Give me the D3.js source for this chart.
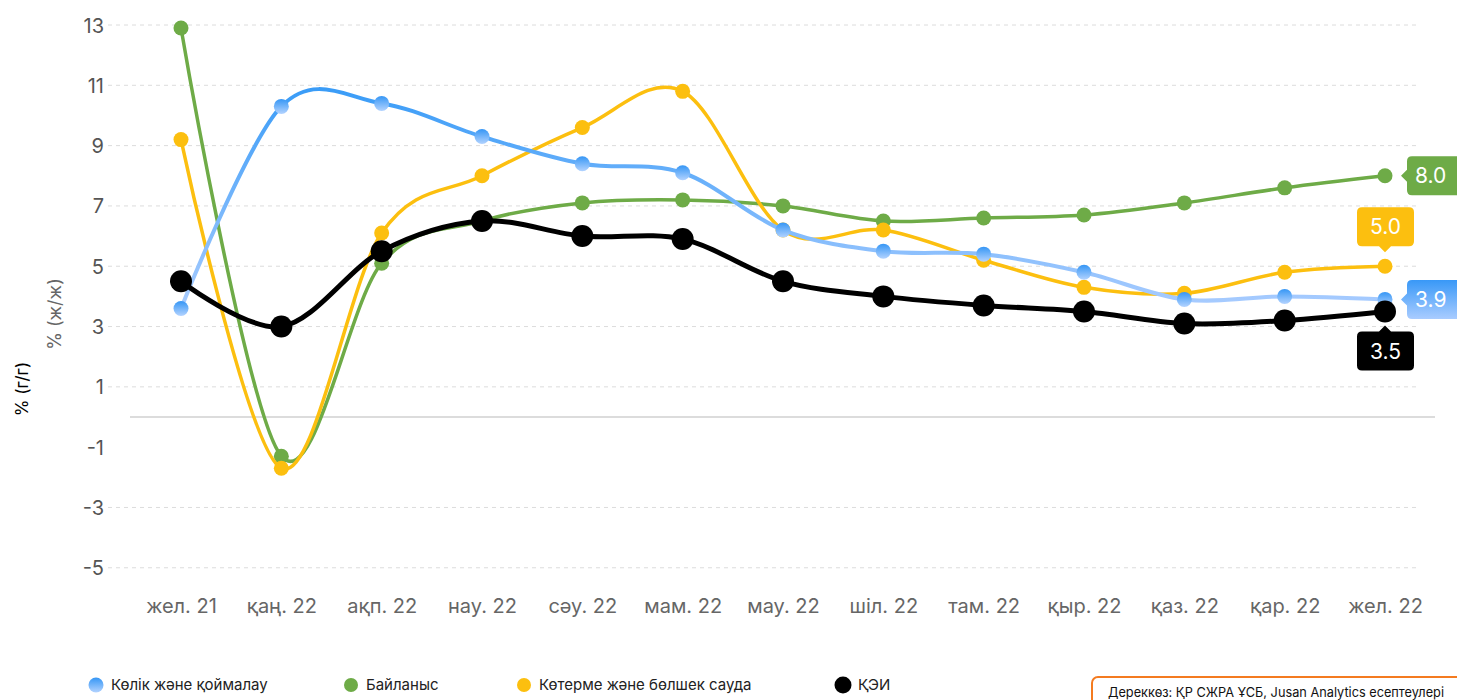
<!DOCTYPE html>
<html><head><meta charset="utf-8">
<script src="https://cdn.jsdelivr.net/npm/d3@7"></script>
<style>
html,body{margin:0;padding:0;background:#fff;}
svg{display:block;font-family:Inter,"Noto Sans",sans-serif;}
</style></head>
<body>
<svg id="chart" width="1457" height="700"></svg>
<script>
const categories = ["жел. 21","қаң. 22","ақп. 22","нау. 22","сәу. 22","мам. 22","мау. 22","шіл. 22","там. 22","қыр. 22","қаз. 22","қар. 22","жел. 22"];
const transport = [3.6,10.3,10.4,9.3,8.4,8.1,6.2,5.5,5.4,4.8,3.9,4.0,3.9];
const communication = [12.9,-1.3,5.1,6.5,7.1,7.2,7.0,6.5,6.6,6.7,7.1,7.6,8.0];
const trade = [9.2,-1.7,6.1,8.0,9.6,10.8,6.2,6.2,5.2,4.3,4.1,4.8,5.0];
const kei = [4.5,3.0,5.5,6.5,6.0,5.9,4.5,4.0,3.7,3.5,3.1,3.2,3.5];
const yTicks = [-5,-3,-1,1,3,5,7,9,11,13];
const seriesNames = ["Көлік және қоймалау","Байланыс","Көтерме және бөлшек сауда","ҚЭИ"];
const sourceText = "Дереккөз: ҚР СЖРА ҰСБ, Jusan Analytics есептеулері";

const svg = d3.select("#chart");
const defs = svg.append("defs");
const lg = defs.append("linearGradient").attr("id","blueLine").attr("x1",0).attr("y1",0).attr("x2",0).attr("y2",1);
lg.append("stop").attr("offset","0%").attr("stop-color","#3a9cf7");
lg.append("stop").attr("offset","100%").attr("stop-color","#a9ccff");
const mg = defs.append("linearGradient").attr("id","blueMarker").attr("x1",0).attr("y1",0).attr("x2",0).attr("y2",1);
mg.append("stop").attr("offset","0%").attr("stop-color","#3596f5");
mg.append("stop").attr("offset","100%").attr("stop-color","#b3d3ff");

const x = d3.scalePoint().domain(categories).range([181,1385]);
const y = d3.scaleLinear().domain([0,13]).range([417,25]);

// gridlines
const grid = svg.append("g");
yTicks.forEach(t=>{
  if(t!==-1) grid.append("line").attr("x1",108).attr("x2",1417).attr("y1",y(t)).attr("y2",y(t))
    .attr("stroke","#dcdcdc").attr("stroke-width",1).attr("stroke-dasharray","4,4");
});
grid.append("line").attr("x1",130).attr("x2",1435).attr("y1",y(0)).attr("y2",y(0)).attr("stroke","#d0d0d0").attr("stroke-width",1.5);

// y axis
const yAxis = d3.axisLeft(y).tickValues(yTicks).tickFormat(d=>String(d)).tickSize(0).tickPadding(0);
const ya = svg.append("g").attr("transform","translate(104,0)").call(yAxis);
ya.select(".domain").remove();
ya.selectAll("text").attr("font-size",20).attr("fill","#555").attr("font-family","Inter,sans-serif").attr("dy","0.35em");

// x axis
const xAxis = d3.axisBottom(x).tickSize(0).tickPadding(0);
const xa = svg.append("g").attr("transform","translate(0,606)").call(xAxis);
xa.select(".domain").remove();
xa.selectAll("text").attr("font-size",20).attr("fill","#666").attr("font-family","Inter,sans-serif").attr("dy","0.35em");

// axis titles
svg.append("text").attr("transform","translate(61,314) rotate(-90)").attr("text-anchor","middle")
  .attr("font-size",18).attr("fill","#666").text("% (ж/ж)");
svg.append("text").attr("transform","translate(28,389) rotate(-90)").attr("text-anchor","middle")
  .attr("font-size",17).attr("fill","#000").text("% (г/г)");

const line = d3.line().x((d,i)=>x(categories[i])).y(d=>y(d)).curve(d3.curveCardinal.tension(0));

const series = [
  {data:communication, color:"#6eab47", marker:"#6eab47", w:3.5, r:7.5},
  {data:trade, color:"#fcbf0f", marker:"#fcbf0f", w:3.5, r:7.5},
  {data:transport, color:"url(#blueLine)", marker:"url(#blueMarker)", w:4, r:7.5},
  {data:kei, color:"#000", marker:"#000", w:5, r:11}
];
series.forEach(s=>{
  const g = svg.append("g");
  g.append("path").attr("d",line(s.data)).attr("fill","none").attr("stroke",s.color).attr("stroke-width",s.w).attr("stroke-linejoin","round");
  g.selectAll("circle").data(s.data).join("circle").attr("cx",(d,i)=>x(categories[i])).attr("cy",d=>y(d)).attr("r",s.r).attr("fill",s.marker);
});

// end labels
const last = categories.length-1;
function leftTag(val, fill, txt){
  const px = x(categories[last]), py = y(val);
  const bx = px+22, bw = 60, bh = 39, by = py-bh/2;
  const p = `M${bx+5},${by} H${bx+bw} V${by+bh} H${bx+5} Q${bx},${by+bh} ${bx},${by+bh-5} V${py+6} L${bx-6},${py} L${bx},${py-6} V${by+5} Q${bx},${by} ${bx+5},${by} Z`;
  svg.append("path").attr("d",p).attr("fill",fill);
  svg.append("text").attr("x",bx+8).attr("y",py).attr("dy","0.36em").attr("font-size",21).attr("fill","#fff").text(txt);
}
function vTag(val, fill, txt, above){
  const px = x(categories[last]), py = y(val);
  const bw = 57, bh = 39, bx = px-28;
  const by = above ? py-20-bh : py+20;
  const r=5;
  let p;
  if(above){
    p = `M${bx+r},${by} H${bx+bw-r} Q${bx+bw},${by} ${bx+bw},${by+r} V${by+bh-r} Q${bx+bw},${by+bh} ${bx+bw-r},${by+bh} H${px+6} L${px},${by+bh+6} L${px-6},${by+bh} H${bx+r} Q${bx},${by+bh} ${bx},${by+bh-r} V${by+r} Q${bx},${by} ${bx+r},${by} Z`;
  } else {
    p = `M${bx+r},${by} H${px-6} L${px},${by-6} L${px+6},${by} H${bx+bw-r} Q${bx+bw},${by} ${bx+bw},${by+r} V${by+bh-r} Q${bx+bw},${by+bh} ${bx+bw-r},${by+bh} H${bx+r} Q${bx},${by+bh} ${bx},${by+bh-r} V${by+r} Q${bx},${by} ${bx+r},${by} Z`;
  }
  svg.append("path").attr("d",p).attr("fill",fill);
  svg.append("text").attr("x",bx+bw/2).attr("y",by+bh/2).attr("dy","0.36em").attr("text-anchor","middle").attr("font-size",21).attr("fill","#fff").text(txt);
}
const tg = defs.append("linearGradient").attr("id","blueTag").attr("x1",0).attr("y1",0).attr("x2",0).attr("y2",1);
tg.append("stop").attr("offset","0%").attr("stop-color","#3898f7");
tg.append("stop").attr("offset","100%").attr("stop-color","#a9ccff");
leftTag(communication[last], "#6eab47", communication[last].toFixed(1));
leftTag(transport[last], "url(#blueTag)", transport[last].toFixed(1));
vTag(trade[last], "#fcbf0f", trade[last].toFixed(1), true);
vTag(kei[last], "#000", kei[last].toFixed(1), false);

// legend
const legX = [96,351,524,843];
const legFill = ["url(#blueMarker)","#6eab47","#fcbf0f","#000"];
const legR = [7.5,7,7,8.5];
seriesNames.forEach((n,i)=>{
  svg.append("circle").attr("cx",legX[i]).attr("cy",685).attr("r",legR[i]).attr("fill",legFill[i]);
  svg.append("text").attr("x",legX[i]+15).attr("y",685).attr("dy","0.35em").attr("font-size",15).attr("fill","#222").text(n);
});

// source box
svg.append("rect").attr("x",1092).attr("y",677).attr("width",380).attr("height",40).attr("rx",6)
  .attr("fill","#fff").attr("stroke","#f47b20").attr("stroke-width",2);
svg.append("text").attr("x",1108).attr("y",692).attr("dy","0.35em").attr("font-size",13).attr("fill","#111")
  .attr("textLength",336).attr("lengthAdjust","spacingAndGlyphs").text(sourceText);
</script>
</body></html>
